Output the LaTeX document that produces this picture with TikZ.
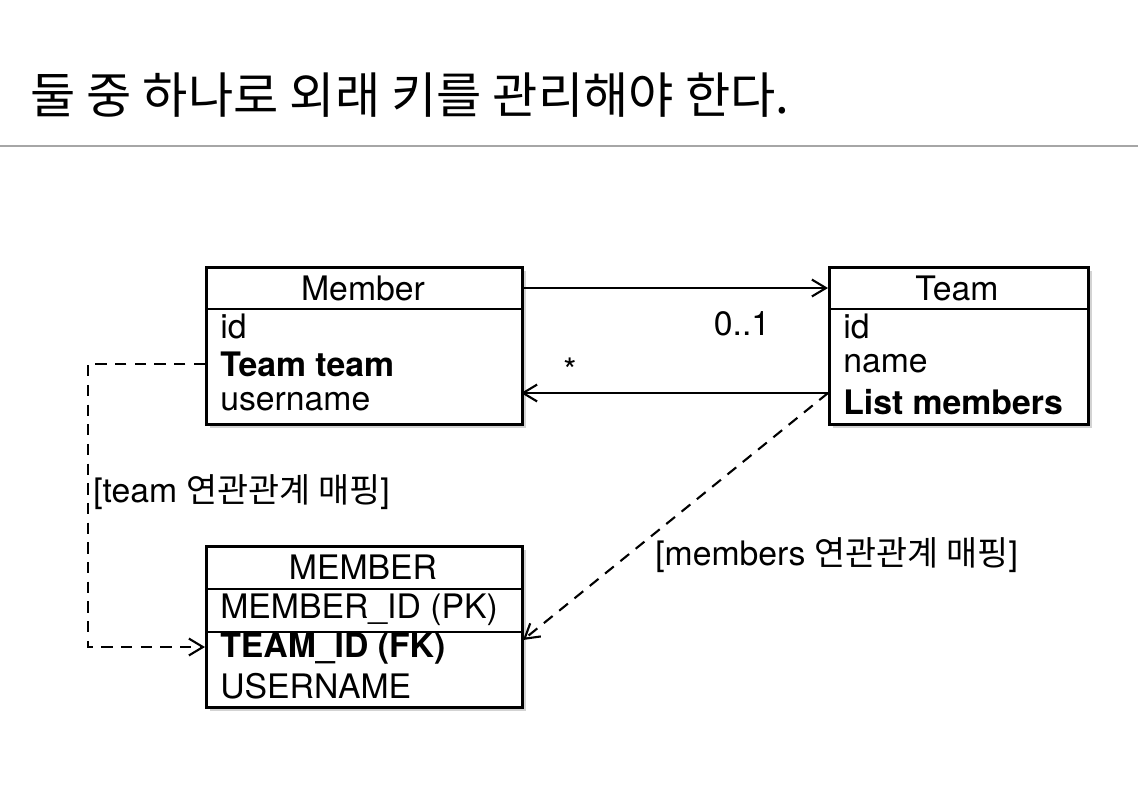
\documentclass[tikz,border=0pt]{standalone}
\usepackage{fontspec}
\setmainfont{TeX Gyre Heros}
\newfontfamily\kr{Noto Sans CJK KR}
\usetikzlibrary{positioning,shadows,arrows.meta}

\begin{document}
\begin{tikzpicture}[
    x=0.025cm, y=-0.025cm,
    box/.style={rectangle, draw, line width=1.8pt, fill=white, drop shadow={opacity=0.35}, anchor=north west, inner sep=0pt},
    head/.style={font=\fontsize{24}{28}\selectfont},
    attr/.style={anchor=west, inner sep=0pt, font=\fontsize{24}{28}\selectfont},
    battr/.style={attr, font=\fontsize{24}{28}\selectfont\bfseries},
    lbl/.style={inner sep=0pt, font=\fontsize{24}{28}\selectfont},
    link/.style={line width=1.5pt, -{Straight Barb[length=10pt,width=12pt,line width=1.5pt]}},
    dlink/.style={link, dash pattern=on 8pt off 6pt}
]
    \useasboundingbox (0,0) rectangle (1138,792);

    % title
    \node[anchor=west, inner sep=0pt, font=\kr\fontsize{35}{40}\selectfont] (title) at (30,95) {둘 중 하나로 외래 키를 관리해야 한다.};
    \draw[gray!70, line width=0.8pt] (0,146) -- (1138,146);

    % Member
    \node[box, minimum width=316*0.025cm, minimum height=157*0.025cm] (member) at (205,266) {};
    \draw[line width=1.8pt] (205,309) -- (521,309);
    \node[head] (memberh) at (363,288) {Member};
    \node[attr] (mid) at (220,326) {id};
    \node[battr] (mteam) at (220,364) {Team team};
    \node[attr] (mname) at (220,402) {username};

    % Team
    \node[box, minimum width=259*0.025cm, minimum height=157*0.025cm] (team) at (828,266) {};
    \draw[line width=1.8pt] (828,309) -- (1087,309);
    \node[head] (teamh) at (957,288) {Team};
    \node[attr] (tid) at (843,326) {id};
    \node[attr] (tname) at (843,364) {name};
    \node[battr] (tmembers) at (843,402) {List members};

    % MEMBER table
    \node[box, minimum width=316*0.025cm, minimum height=161*0.025cm] (table) at (205,545) {};
    \draw[line width=1.8pt] (205,589) -- (521,589);
    \draw[line width=1.8pt] (205,632) -- (521,632);
    \node[head] (tableh) at (363,567) {MEMBER};
    \node[attr] (tpk) at (220,610) {MEMBER\_ID (PK)};
    \node[battr] (tfk) at (220,649) {TEAM\_ID (FK)};
    \node[attr] (tuser) at (220,686) {USERNAME};

    % associations
    \coordinate (m1) at (521,288);
    \coordinate (t1) at (828,288);
    \coordinate (t2) at (828,393);
    \coordinate (m2) at (521,393);
    \draw[link] (m1) -- (t1);
    \draw[link] (t2) -- (m2);
    \node[lbl] (mult1) at (742,324) {0..1};
    \node[lbl] (mult2) at (570,370) {*};

    % mappings
    \coordinate (mleft) at (205,364);
    \coordinate (fkleft) at (205,647);
    \coordinate (fkright) at (523,640);
    \draw[dlink] (mleft) -- (88,364) -- (88,647) -- (fkleft);
    \draw[dlink] (t2) -- (fkright);
    \node[lbl, anchor=west] (map1) at (93,492) {[team {\kr 연관관계 매핑}]};
    \node[lbl, anchor=west] (map2) at (655,555) {[members {\kr 연관관계 매핑}]};
\end{tikzpicture}
\end{document}
